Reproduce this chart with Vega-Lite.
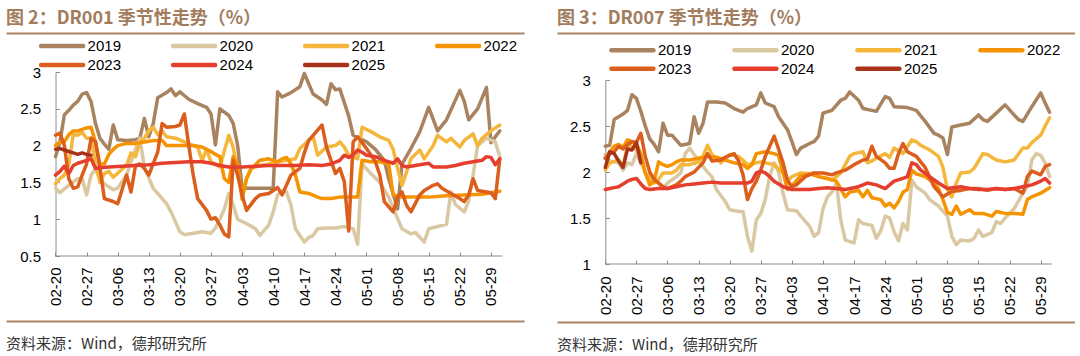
{
"$schema": "https://vega.github.io/schema/vega-lite/v6.json",
"background": "white",
"padding": {"left": 6, "top": 10, "right": 0, "bottom": 0},
"config": {
  "view": {"stroke": null},
  "font": "Liberation Sans",
  "axis": {"labelFont": "Liberation Sans", "labelColor": "#000000", "domainColor": "#8c8c8c", "tickColor": "#8c8c8c", "grid": false},
  "legend": {"labelFont": "Liberation Sans"}
},
"datasets": {
"dr001": [
{"s":"2019","d":"02-20","v":1.85},{"s":"2019","d":"02-21","v":2.05},{"s":"2019","d":"02-22","v":2.42},{"s":"2019","d":"02-23","v":2.48},{"s":"2019","d":"02-24","v":2.55},{"s":"2019","d":"02-25","v":2.6},{"s":"2019","d":"02-26","v":2.7},{"s":"2019","d":"02-27","v":2.72},{"s":"2019","d":"02-28","v":2.6},{"s":"2019","d":"03-01","v":2.3},{"s":"2019","d":"03-02","v":2.1},{"s":"2019","d":"03-03","v":2.02},{"s":"2019","d":"03-04","v":1.95},{"s":"2019","d":"03-05","v":2.28},{"s":"2019","d":"03-06","v":2.08},{"s":"2019","d":"03-08","v":2.07},{"s":"2019","d":"03-10","v":2.08},{"s":"2019","d":"03-11","v":2.1},{"s":"2019","d":"03-12","v":2.37},{"s":"2019","d":"03-13","v":2.12},{"s":"2019","d":"03-14","v":2.3},{"s":"2019","d":"03-15","v":2.65},{"s":"2019","d":"03-17","v":2.72},{"s":"2019","d":"03-18","v":2.77},{"s":"2019","d":"03-19","v":2.68},{"s":"2019","d":"03-20","v":2.73},{"s":"2019","d":"03-22","v":2.63},{"s":"2019","d":"03-24","v":2.57},{"s":"2019","d":"03-26","v":2.52},{"s":"2019","d":"03-27","v":2.43},{"s":"2019","d":"03-28","v":2.01},{"s":"2019","d":"03-29","v":2.5},{"s":"2019","d":"03-31","v":2.41},{"s":"2019","d":"04-01","v":2.3},{"s":"2019","d":"04-02","v":2.0},{"s":"2019","d":"04-03","v":1.42},{"s":"2019","d":"04-07","v":1.42},{"s":"2019","d":"04-10","v":1.42},{"s":"2019","d":"04-11","v":2.73},{"s":"2019","d":"04-12","v":2.66},{"s":"2019","d":"04-14","v":2.72},{"s":"2019","d":"04-16","v":2.8},{"s":"2019","d":"04-17","v":2.98},{"s":"2019","d":"04-19","v":2.7},{"s":"2019","d":"04-21","v":2.62},{"s":"2019","d":"04-22","v":2.56},{"s":"2019","d":"04-23","v":2.84},{"s":"2019","d":"04-24","v":2.76},{"s":"2019","d":"04-25","v":2.77},{"s":"2019","d":"04-27","v":2.4},{"s":"2019","d":"04-28","v":2.14},{"s":"2019","d":"05-01","v":2.05},{"s":"2019","d":"05-03","v":1.95},{"s":"2019","d":"05-05","v":1.8},{"s":"2019","d":"05-06","v":1.55},{"s":"2019","d":"05-08","v":1.14},{"s":"2019","d":"05-09","v":1.75},{"s":"2019","d":"05-11","v":1.96},{"s":"2019","d":"05-13","v":2.19},{"s":"2019","d":"05-15","v":2.52},{"s":"2019","d":"05-17","v":2.2},{"s":"2019","d":"05-19","v":2.35},{"s":"2019","d":"05-22","v":2.75},{"s":"2019","d":"05-23","v":2.6},{"s":"2019","d":"05-24","v":2.35},{"s":"2019","d":"05-26","v":2.5},{"s":"2019","d":"05-28","v":2.79},{"s":"2019","d":"05-29","v":2.04},{"s":"2019","d":"05-31","v":2.2},
{"s":"2020","d":"02-20","v":1.42},{"s":"2020","d":"02-21","v":1.36},{"s":"2020","d":"02-23","v":1.46},{"s":"2020","d":"02-25","v":1.55},{"s":"2020","d":"02-26","v":1.55},{"s":"2020","d":"02-27","v":1.33},{"s":"2020","d":"02-28","v":1.6},{"s":"2020","d":"03-01","v":1.68},{"s":"2020","d":"03-02","v":1.55},{"s":"2020","d":"03-03","v":1.48},{"s":"2020","d":"03-05","v":1.4},{"s":"2020","d":"03-06","v":1.42},{"s":"2020","d":"03-08","v":1.6},{"s":"2020","d":"03-09","v":1.78},{"s":"2020","d":"03-10","v":1.95},{"s":"2020","d":"03-11","v":2.1},{"s":"2020","d":"03-12","v":1.7},{"s":"2020","d":"03-14","v":1.42},{"s":"2020","d":"03-15","v":1.35},{"s":"2020","d":"03-17","v":1.21},{"s":"2020","d":"03-18","v":1.1},{"s":"2020","d":"03-20","v":0.83},{"s":"2020","d":"03-21","v":0.79},{"s":"2020","d":"03-23","v":0.81},{"s":"2020","d":"03-25","v":0.83},{"s":"2020","d":"03-27","v":0.81},{"s":"2020","d":"03-28","v":0.88},{"s":"2020","d":"03-29","v":1.0},{"s":"2020","d":"03-30","v":1.14},{"s":"2020","d":"03-31","v":1.35},{"s":"2020","d":"04-01","v":1.19},{"s":"2020","d":"04-02","v":1.0},{"s":"2020","d":"04-04","v":0.94},{"s":"2020","d":"04-06","v":0.87},{"s":"2020","d":"04-07","v":0.78},{"s":"2020","d":"04-09","v":0.92},{"s":"2020","d":"04-10","v":1.1},{"s":"2020","d":"04-11","v":1.33},{"s":"2020","d":"04-12","v":1.39},{"s":"2020","d":"04-13","v":1.37},{"s":"2020","d":"04-14","v":1.19},{"s":"2020","d":"04-15","v":0.87},{"s":"2020","d":"04-17","v":0.69},{"s":"2020","d":"04-18","v":0.75},{"s":"2020","d":"04-19","v":0.78},{"s":"2020","d":"04-20","v":0.87},{"s":"2020","d":"04-22","v":0.88},{"s":"2020","d":"04-24","v":0.88},{"s":"2020","d":"04-26","v":0.9},{"s":"2020","d":"04-28","v":0.87},{"s":"2020","d":"04-29","v":0.66},{"s":"2020","d":"04-30","v":1.75},{"s":"2020","d":"05-02","v":1.62},{"s":"2020","d":"05-04","v":1.5},{"s":"2020","d":"05-06","v":1.3},{"s":"2020","d":"05-07","v":1.15},{"s":"2020","d":"05-09","v":0.87},{"s":"2020","d":"05-11","v":0.8},{"s":"2020","d":"05-12","v":0.82},{"s":"2020","d":"05-14","v":0.69},{"s":"2020","d":"05-15","v":0.87},{"s":"2020","d":"05-17","v":0.9},{"s":"2020","d":"05-19","v":0.93},{"s":"2020","d":"05-20","v":1.37},{"s":"2020","d":"05-21","v":1.2},{"s":"2020","d":"05-23","v":1.1},{"s":"2020","d":"05-24","v":1.25},{"s":"2020","d":"05-25","v":1.6},{"s":"2020","d":"05-26","v":2.0},{"s":"2020","d":"05-28","v":2.1},{"s":"2020","d":"05-30","v":2.05},{"s":"2020","d":"05-31","v":1.85},
{"s":"2021","d":"02-20","v":1.48},{"s":"2021","d":"02-21","v":1.55},{"s":"2021","d":"02-22","v":1.6},{"s":"2021","d":"02-23","v":1.75},{"s":"2021","d":"02-24","v":2.15},{"s":"2021","d":"02-25","v":2.14},{"s":"2021","d":"02-26","v":2.18},{"s":"2021","d":"02-27","v":2.1},{"s":"2021","d":"02-28","v":2.1},{"s":"2021","d":"03-01","v":1.75},{"s":"2021","d":"03-02","v":1.5},{"s":"2021","d":"03-03","v":1.62},{"s":"2021","d":"03-04","v":1.65},{"s":"2021","d":"03-05","v":1.57},{"s":"2021","d":"03-07","v":1.68},{"s":"2021","d":"03-08","v":1.73},{"s":"2021","d":"03-09","v":1.9},{"s":"2021","d":"03-10","v":1.85},{"s":"2021","d":"03-11","v":2.05},{"s":"2021","d":"03-12","v":2.1},{"s":"2021","d":"03-13","v":2.2},{"s":"2021","d":"03-14","v":2.25},{"s":"2021","d":"03-15","v":2.15},{"s":"2021","d":"03-16","v":2.2},{"s":"2021","d":"03-17","v":2.12},{"s":"2021","d":"03-19","v":2.1},{"s":"2021","d":"03-21","v":2.05},{"s":"2021","d":"03-23","v":2.0},{"s":"2021","d":"03-24","v":1.98},{"s":"2021","d":"03-25","v":1.8},{"s":"2021","d":"03-26","v":1.95},{"s":"2021","d":"03-27","v":1.78},{"s":"2021","d":"03-29","v":1.71},{"s":"2021","d":"03-31","v":2.14},{"s":"2021","d":"04-01","v":1.98},{"s":"2021","d":"04-02","v":1.6},{"s":"2021","d":"04-03","v":1.33},{"s":"2021","d":"04-04","v":1.55},{"s":"2021","d":"04-05","v":1.69},{"s":"2021","d":"04-07","v":1.73},{"s":"2021","d":"04-09","v":1.75},{"s":"2021","d":"04-11","v":1.78},{"s":"2021","d":"04-13","v":1.8},{"s":"2021","d":"04-15","v":1.82},{"s":"2021","d":"04-16","v":1.96},{"s":"2021","d":"04-18","v":2.07},{"s":"2021","d":"04-19","v":2.12},{"s":"2021","d":"04-20","v":1.87},{"s":"2021","d":"04-22","v":1.98},{"s":"2021","d":"04-24","v":2.0},{"s":"2021","d":"04-25","v":2.05},{"s":"2021","d":"04-26","v":1.98},{"s":"2021","d":"04-27","v":1.87},{"s":"2021","d":"04-29","v":1.82},{"s":"2021","d":"04-30","v":2.25},{"s":"2021","d":"05-02","v":2.19},{"s":"2021","d":"05-04","v":2.12},{"s":"2021","d":"05-06","v":2.07},{"s":"2021","d":"05-07","v":1.95},{"s":"2021","d":"05-08","v":1.69},{"s":"2021","d":"05-09","v":1.46},{"s":"2021","d":"05-10","v":1.64},{"s":"2021","d":"05-11","v":1.82},{"s":"2021","d":"05-13","v":1.94},{"s":"2021","d":"05-14","v":1.82},{"s":"2021","d":"05-16","v":2.0},{"s":"2021","d":"05-17","v":2.14},{"s":"2021","d":"05-19","v":2.05},{"s":"2021","d":"05-20","v":2.1},{"s":"2021","d":"05-22","v":1.98},{"s":"2021","d":"05-23","v":2.07},{"s":"2021","d":"05-25","v":2.16},{"s":"2021","d":"05-26","v":2.0},{"s":"2021","d":"05-27","v":2.1},{"s":"2021","d":"05-29","v":2.2},{"s":"2021","d":"05-31","v":2.28},
{"s":"2022","d":"02-20","v":2.0},{"s":"2022","d":"02-21","v":2.05},{"s":"2022","d":"02-22","v":2.05},{"s":"2022","d":"02-23","v":2.15},{"s":"2022","d":"02-24","v":2.2},{"s":"2022","d":"02-25","v":2.2},{"s":"2022","d":"02-26","v":2.22},{"s":"2022","d":"02-27","v":2.24},{"s":"2022","d":"02-28","v":2.25},{"s":"2022","d":"03-01","v":2.05},{"s":"2022","d":"03-02","v":1.75},{"s":"2022","d":"03-03","v":1.75},{"s":"2022","d":"03-04","v":1.88},{"s":"2022","d":"03-05","v":1.95},{"s":"2022","d":"03-06","v":2.0},{"s":"2022","d":"03-08","v":2.03},{"s":"2022","d":"03-10","v":2.03},{"s":"2022","d":"03-12","v":2.05},{"s":"2022","d":"03-14","v":2.07},{"s":"2022","d":"03-16","v":2.07},{"s":"2022","d":"03-17","v":2.0},{"s":"2022","d":"03-19","v":2.0},{"s":"2022","d":"03-21","v":2.0},{"s":"2022","d":"03-23","v":2.0},{"s":"2022","d":"03-25","v":1.98},{"s":"2022","d":"03-27","v":1.92},{"s":"2022","d":"03-28","v":1.88},{"s":"2022","d":"03-29","v":1.85},{"s":"2022","d":"03-30","v":1.55},{"s":"2022","d":"03-31","v":1.5},{"s":"2022","d":"04-01","v":1.85},{"s":"2022","d":"04-02","v":1.75},{"s":"2022","d":"04-03","v":1.27},{"s":"2022","d":"04-04","v":1.55},{"s":"2022","d":"04-05","v":1.68},{"s":"2022","d":"04-07","v":1.8},{"s":"2022","d":"04-09","v":1.82},{"s":"2022","d":"04-11","v":1.78},{"s":"2022","d":"04-12","v":1.82},{"s":"2022","d":"04-13","v":1.84},{"s":"2022","d":"04-14","v":1.75},{"s":"2022","d":"04-15","v":1.6},{"s":"2022","d":"04-16","v":1.37},{"s":"2022","d":"04-18","v":1.35},{"s":"2022","d":"04-20","v":1.3},{"s":"2022","d":"04-21","v":1.28},{"s":"2022","d":"04-23","v":1.28},{"s":"2022","d":"04-25","v":1.3},{"s":"2022","d":"04-27","v":1.3},{"s":"2022","d":"04-29","v":1.3},{"s":"2022","d":"04-30","v":1.8},{"s":"2022","d":"05-02","v":1.78},{"s":"2022","d":"05-04","v":1.78},{"s":"2022","d":"05-06","v":1.75},{"s":"2022","d":"05-07","v":1.33},{"s":"2022","d":"05-09","v":1.3},{"s":"2022","d":"05-11","v":1.3},{"s":"2022","d":"05-15","v":1.3},{"s":"2022","d":"05-19","v":1.32},{"s":"2022","d":"05-23","v":1.33},{"s":"2022","d":"05-27","v":1.34},{"s":"2022","d":"05-29","v":1.36},{"s":"2022","d":"05-31","v":1.38},
{"s":"2023","d":"02-20","v":2.14},{"s":"2023","d":"02-21","v":2.17},{"s":"2023","d":"02-22","v":2.0},{"s":"2023","d":"02-23","v":1.55},{"s":"2023","d":"02-24","v":1.42},{"s":"2023","d":"02-25","v":1.44},{"s":"2023","d":"02-26","v":1.6},{"s":"2023","d":"02-27","v":1.75},{"s":"2023","d":"02-28","v":2.1},{"s":"2023","d":"03-01","v":2.05},{"s":"2023","d":"03-02","v":1.7},{"s":"2023","d":"03-03","v":1.28},{"s":"2023","d":"03-05","v":1.24},{"s":"2023","d":"03-06","v":1.21},{"s":"2023","d":"03-08","v":1.6},{"s":"2023","d":"03-09","v":1.37},{"s":"2023","d":"03-10","v":1.73},{"s":"2023","d":"03-11","v":1.75},{"s":"2023","d":"03-12","v":1.69},{"s":"2023","d":"03-13","v":1.6},{"s":"2023","d":"03-15","v":1.91},{"s":"2023","d":"03-16","v":2.3},{"s":"2023","d":"03-17","v":2.25},{"s":"2023","d":"03-19","v":2.26},{"s":"2023","d":"03-20","v":2.28},{"s":"2023","d":"03-21","v":2.43},{"s":"2023","d":"03-22","v":2.0},{"s":"2023","d":"03-23","v":1.6},{"s":"2023","d":"03-24","v":1.28},{"s":"2023","d":"03-25","v":1.2},{"s":"2023","d":"03-26","v":1.12},{"s":"2023","d":"03-27","v":1.0},{"s":"2023","d":"03-28","v":1.02},{"s":"2023","d":"03-29","v":0.92},{"s":"2023","d":"03-30","v":0.8},{"s":"2023","d":"03-31","v":0.76},{"s":"2023","d":"04-01","v":1.8},{"s":"2023","d":"04-02","v":1.6},{"s":"2023","d":"04-03","v":1.33},{"s":"2023","d":"04-04","v":1.12},{"s":"2023","d":"04-06","v":1.28},{"s":"2023","d":"04-07","v":1.33},{"s":"2023","d":"04-09","v":1.35},{"s":"2023","d":"04-11","v":1.43},{"s":"2023","d":"04-12","v":1.33},{"s":"2023","d":"04-14","v":1.6},{"s":"2023","d":"04-16","v":1.69},{"s":"2023","d":"04-17","v":1.9},{"s":"2023","d":"04-18","v":2.07},{"s":"2023","d":"04-20","v":2.21},{"s":"2023","d":"04-21","v":2.28},{"s":"2023","d":"04-22","v":1.98},{"s":"2023","d":"04-24","v":1.62},{"s":"2023","d":"04-25","v":1.69},{"s":"2023","d":"04-26","v":1.51},{"s":"2023","d":"04-27","v":0.84},{"s":"2023","d":"04-28","v":2.05},{"s":"2023","d":"04-29","v":2.12},{"s":"2023","d":"05-01","v":1.96},{"s":"2023","d":"05-03","v":1.78},{"s":"2023","d":"05-04","v":1.6},{"s":"2023","d":"05-05","v":1.24},{"s":"2023","d":"05-07","v":1.1},{"s":"2023","d":"05-08","v":1.3},{"s":"2023","d":"05-09","v":1.37},{"s":"2023","d":"05-10","v":1.19},{"s":"2023","d":"05-11","v":1.1},{"s":"2023","d":"05-13","v":1.33},{"s":"2023","d":"05-14","v":1.39},{"s":"2023","d":"05-16","v":1.46},{"s":"2023","d":"05-17","v":1.48},{"s":"2023","d":"05-18","v":1.42},{"s":"2023","d":"05-20","v":1.35},{"s":"2023","d":"05-22","v":1.28},{"s":"2023","d":"05-23","v":1.24},{"s":"2023","d":"05-24","v":1.33},{"s":"2023","d":"05-25","v":1.55},{"s":"2023","d":"05-26","v":1.39},{"s":"2023","d":"05-28","v":1.37},{"s":"2023","d":"05-29","v":1.36},{"s":"2023","d":"05-30","v":1.28},{"s":"2023","d":"05-31","v":1.82},
{"s":"2024","d":"02-20","v":1.6},{"s":"2024","d":"02-21","v":1.65},{"s":"2024","d":"02-22","v":1.72},{"s":"2024","d":"02-23","v":1.62},{"s":"2024","d":"02-24","v":1.73},{"s":"2024","d":"02-25","v":1.76},{"s":"2024","d":"02-26","v":1.78},{"s":"2024","d":"02-27","v":1.8},{"s":"2024","d":"02-28","v":1.82},{"s":"2024","d":"03-01","v":1.69},{"s":"2024","d":"03-02","v":1.7},{"s":"2024","d":"03-04","v":1.71},{"s":"2024","d":"03-07","v":1.72},{"s":"2024","d":"03-10","v":1.73},{"s":"2024","d":"03-13","v":1.74},{"s":"2024","d":"03-16","v":1.76},{"s":"2024","d":"03-19","v":1.77},{"s":"2024","d":"03-22","v":1.78},{"s":"2024","d":"03-25","v":1.78},{"s":"2024","d":"03-27","v":1.76},{"s":"2024","d":"03-29","v":1.73},{"s":"2024","d":"03-31","v":1.71},{"s":"2024","d":"04-03","v":1.71},{"s":"2024","d":"04-06","v":1.72},{"s":"2024","d":"04-09","v":1.73},{"s":"2024","d":"04-12","v":1.73},{"s":"2024","d":"04-15","v":1.73},{"s":"2024","d":"04-18","v":1.74},{"s":"2024","d":"04-21","v":1.73},{"s":"2024","d":"04-23","v":1.75},{"s":"2024","d":"04-25","v":1.8},{"s":"2024","d":"04-26","v":1.87},{"s":"2024","d":"04-27","v":1.84},{"s":"2024","d":"04-28","v":1.87},{"s":"2024","d":"04-29","v":1.94},{"s":"2024","d":"04-30","v":1.91},{"s":"2024","d":"05-01","v":1.87},{"s":"2024","d":"05-03","v":1.85},{"s":"2024","d":"05-05","v":1.8},{"s":"2024","d":"05-07","v":1.76},{"s":"2024","d":"05-08","v":1.82},{"s":"2024","d":"05-09","v":1.73},{"s":"2024","d":"05-10","v":1.71},{"s":"2024","d":"05-12","v":1.73},{"s":"2024","d":"05-15","v":1.76},{"s":"2024","d":"05-16","v":1.71},{"s":"2024","d":"05-19","v":1.71},{"s":"2024","d":"05-21","v":1.73},{"s":"2024","d":"05-23","v":1.76},{"s":"2024","d":"05-25","v":1.78},{"s":"2024","d":"05-27","v":1.8},{"s":"2024","d":"05-28","v":1.85},{"s":"2024","d":"05-29","v":1.84},{"s":"2024","d":"05-30","v":1.74},{"s":"2024","d":"05-31","v":1.82},
{"s":"2025","d":"02-20","v":1.95},{"s":"2025","d":"02-21","v":1.96},{"s":"2025","d":"02-22","v":1.94},{"s":"2025","d":"02-23","v":1.92},{"s":"2025","d":"02-24","v":1.9},{"s":"2025","d":"02-25","v":1.88},{"s":"2025","d":"02-26","v":1.9},{"s":"2025","d":"02-27","v":1.88},{"s":"2025","d":"02-28","v":1.87}
],
"dr007": [
{"s":"2019","d":"02-20","v":2.28},{"s":"2019","d":"02-21","v":2.29},{"s":"2019","d":"02-22","v":2.57},{"s":"2019","d":"02-23","v":2.6},{"s":"2019","d":"02-24","v":2.63},{"s":"2019","d":"02-25","v":2.67},{"s":"2019","d":"02-26","v":2.84},{"s":"2019","d":"02-27","v":2.8},{"s":"2019","d":"02-28","v":2.66},{"s":"2019","d":"03-01","v":2.5},{"s":"2019","d":"03-02","v":2.36},{"s":"2019","d":"03-03","v":2.3},{"s":"2019","d":"03-04","v":2.22},{"s":"2019","d":"03-05","v":2.53},{"s":"2019","d":"03-06","v":2.4},{"s":"2019","d":"03-07","v":2.4},{"s":"2019","d":"03-09","v":2.29},{"s":"2019","d":"03-11","v":2.31},{"s":"2019","d":"03-12","v":2.6},{"s":"2019","d":"03-13","v":2.42},{"s":"2019","d":"03-14","v":2.53},{"s":"2019","d":"03-15","v":2.76},{"s":"2019","d":"03-17","v":2.76},{"s":"2019","d":"03-19","v":2.75},{"s":"2019","d":"03-21","v":2.69},{"s":"2019","d":"03-23","v":2.65},{"s":"2019","d":"03-24","v":2.69},{"s":"2019","d":"03-26","v":2.73},{"s":"2019","d":"03-27","v":2.86},{"s":"2019","d":"03-28","v":2.75},{"s":"2019","d":"03-30","v":2.71},{"s":"2019","d":"03-31","v":2.6},{"s":"2019","d":"04-02","v":2.46},{"s":"2019","d":"04-03","v":2.33},{"s":"2019","d":"04-04","v":2.19},{"s":"2019","d":"04-05","v":2.26},{"s":"2019","d":"04-07","v":2.31},{"s":"2019","d":"04-08","v":2.33},{"s":"2019","d":"04-09","v":2.39},{"s":"2019","d":"04-10","v":2.64},{"s":"2019","d":"04-12","v":2.67},{"s":"2019","d":"04-14","v":2.78},{"s":"2019","d":"04-15","v":2.8},{"s":"2019","d":"04-16","v":2.87},{"s":"2019","d":"04-18","v":2.78},{"s":"2019","d":"04-19","v":2.69},{"s":"2019","d":"04-21","v":2.67},{"s":"2019","d":"04-22","v":2.66},{"s":"2019","d":"04-24","v":2.82},{"s":"2019","d":"04-25","v":2.8},{"s":"2019","d":"04-26","v":2.71},{"s":"2019","d":"04-29","v":2.7},{"s":"2019","d":"05-01","v":2.67},{"s":"2019","d":"05-03","v":2.55},{"s":"2019","d":"05-05","v":2.42},{"s":"2019","d":"05-06","v":2.4},{"s":"2019","d":"05-07","v":2.37},{"s":"2019","d":"05-08","v":2.19},{"s":"2019","d":"05-09","v":2.49},{"s":"2019","d":"05-11","v":2.51},{"s":"2019","d":"05-13","v":2.53},{"s":"2019","d":"05-15","v":2.62},{"s":"2019","d":"05-16","v":2.57},{"s":"2019","d":"05-17","v":2.55},{"s":"2019","d":"05-19","v":2.64},{"s":"2019","d":"05-21","v":2.73},{"s":"2019","d":"05-23","v":2.62},{"s":"2019","d":"05-24","v":2.57},{"s":"2019","d":"05-25","v":2.55},{"s":"2019","d":"05-27","v":2.71},{"s":"2019","d":"05-29","v":2.86},{"s":"2019","d":"05-30","v":2.75},{"s":"2019","d":"05-31","v":2.65},
{"s":"2020","d":"02-20","v":2.19},{"s":"2020","d":"02-21","v":2.12},{"s":"2020","d":"02-22","v":2.11},{"s":"2020","d":"02-23","v":2.1},{"s":"2020","d":"02-24","v":2.02},{"s":"2020","d":"02-25","v":2.1},{"s":"2020","d":"02-26","v":2.08},{"s":"2020","d":"02-27","v":2.2},{"s":"2020","d":"02-28","v":2.1},{"s":"2020","d":"03-01","v":1.99},{"s":"2020","d":"03-02","v":1.95},{"s":"2020","d":"03-04","v":1.88},{"s":"2020","d":"03-05","v":1.82},{"s":"2020","d":"03-06","v":1.88},{"s":"2020","d":"03-08","v":1.95},{"s":"2020","d":"03-09","v":1.99},{"s":"2020","d":"03-10","v":2.2},{"s":"2020","d":"03-11","v":2.26},{"s":"2020","d":"03-12","v":2.19},{"s":"2020","d":"03-14","v":2.06},{"s":"2020","d":"03-15","v":2.0},{"s":"2020","d":"03-16","v":1.95},{"s":"2020","d":"03-17","v":1.81},{"s":"2020","d":"03-19","v":1.68},{"s":"2020","d":"03-20","v":1.59},{"s":"2020","d":"03-22","v":1.57},{"s":"2020","d":"03-23","v":1.57},{"s":"2020","d":"03-24","v":1.3},{"s":"2020","d":"03-25","v":1.14},{"s":"2020","d":"03-26","v":1.48},{"s":"2020","d":"03-27","v":1.55},{"s":"2020","d":"03-28","v":1.7},{"s":"2020","d":"03-29","v":1.95},{"s":"2020","d":"03-30","v":2.1},{"s":"2020","d":"03-31","v":2.0},{"s":"2020","d":"04-01","v":1.77},{"s":"2020","d":"04-02","v":1.59},{"s":"2020","d":"04-04","v":1.58},{"s":"2020","d":"04-05","v":1.52},{"s":"2020","d":"04-07","v":1.41},{"s":"2020","d":"04-08","v":1.3},{"s":"2020","d":"04-09","v":1.34},{"s":"2020","d":"04-10","v":1.6},{"s":"2020","d":"04-11","v":1.73},{"s":"2020","d":"04-12","v":1.78},{"s":"2020","d":"04-13","v":1.88},{"s":"2020","d":"04-14","v":1.48},{"s":"2020","d":"04-15","v":1.26},{"s":"2020","d":"04-17","v":1.23},{"s":"2020","d":"04-18","v":1.48},{"s":"2020","d":"04-19","v":1.44},{"s":"2020","d":"04-21","v":1.42},{"s":"2020","d":"04-22","v":1.28},{"s":"2020","d":"04-23","v":1.36},{"s":"2020","d":"04-24","v":1.52},{"s":"2020","d":"04-25","v":1.5},{"s":"2020","d":"04-26","v":1.35},{"s":"2020","d":"04-27","v":1.25},{"s":"2020","d":"04-28","v":1.44},{"s":"2020","d":"04-29","v":1.37},{"s":"2020","d":"04-30","v":1.91},{"s":"2020","d":"05-01","v":1.84},{"s":"2020","d":"05-03","v":1.77},{"s":"2020","d":"05-04","v":1.7},{"s":"2020","d":"05-06","v":1.63},{"s":"2020","d":"05-08","v":1.52},{"s":"2020","d":"05-09","v":1.3},{"s":"2020","d":"05-10","v":1.21},{"s":"2020","d":"05-11","v":1.26},{"s":"2020","d":"05-13","v":1.25},{"s":"2020","d":"05-14","v":1.28},{"s":"2020","d":"05-15","v":1.37},{"s":"2020","d":"05-16","v":1.3},{"s":"2020","d":"05-18","v":1.34},{"s":"2020","d":"05-19","v":1.46},{"s":"2020","d":"05-20","v":1.44},{"s":"2020","d":"05-21","v":1.5},{"s":"2020","d":"05-23","v":1.6},{"s":"2020","d":"05-25","v":1.77},{"s":"2020","d":"05-26","v":1.84},{"s":"2020","d":"05-27","v":2.13},{"s":"2020","d":"05-28","v":2.2},{"s":"2020","d":"05-29","v":2.18},{"s":"2020","d":"05-30","v":2.1},{"s":"2020","d":"05-31","v":1.95},
{"s":"2021","d":"02-20","v":2.02},{"s":"2021","d":"02-21","v":2.1},{"s":"2021","d":"02-23","v":2.13},{"s":"2021","d":"02-24","v":2.06},{"s":"2021","d":"02-25","v":2.29},{"s":"2021","d":"02-26","v":2.28},{"s":"2021","d":"02-27","v":2.24},{"s":"2021","d":"02-28","v":2.18},{"s":"2021","d":"03-01","v":1.99},{"s":"2021","d":"03-02","v":1.92},{"s":"2021","d":"03-03","v":1.88},{"s":"2021","d":"03-04","v":1.92},{"s":"2021","d":"03-05","v":1.99},{"s":"2021","d":"03-07","v":1.99},{"s":"2021","d":"03-08","v":2.02},{"s":"2021","d":"03-09","v":2.08},{"s":"2021","d":"03-11","v":2.08},{"s":"2021","d":"03-13","v":2.11},{"s":"2021","d":"03-14","v":2.17},{"s":"2021","d":"03-15","v":2.29},{"s":"2021","d":"03-16","v":2.19},{"s":"2021","d":"03-18","v":2.1},{"s":"2021","d":"03-19","v":2.15},{"s":"2021","d":"03-20","v":2.19},{"s":"2021","d":"03-22","v":2.17},{"s":"2021","d":"03-24","v":2.08},{"s":"2021","d":"03-26","v":2.1},{"s":"2021","d":"03-27","v":2.11},{"s":"2021","d":"03-29","v":2.09},{"s":"2021","d":"03-30","v":2.08},{"s":"2021","d":"04-01","v":1.99},{"s":"2021","d":"04-02","v":1.9},{"s":"2021","d":"04-03","v":1.95},{"s":"2021","d":"04-05","v":1.99},{"s":"2021","d":"04-07","v":1.98},{"s":"2021","d":"04-08","v":1.99},{"s":"2021","d":"04-09","v":1.95},{"s":"2021","d":"04-11","v":1.93},{"s":"2021","d":"04-12","v":1.91},{"s":"2021","d":"04-14","v":1.99},{"s":"2021","d":"04-16","v":2.17},{"s":"2021","d":"04-17","v":2.2},{"s":"2021","d":"04-19","v":2.22},{"s":"2021","d":"04-20","v":2.1},{"s":"2021","d":"04-21","v":2.12},{"s":"2021","d":"04-22","v":2.15},{"s":"2021","d":"04-24","v":2.2},{"s":"2021","d":"04-25","v":2.16},{"s":"2021","d":"04-26","v":2.26},{"s":"2021","d":"04-28","v":2.2},{"s":"2021","d":"04-30","v":2.35},{"s":"2021","d":"05-01","v":2.33},{"s":"2021","d":"05-02","v":2.29},{"s":"2021","d":"05-04","v":2.24},{"s":"2021","d":"05-06","v":2.17},{"s":"2021","d":"05-07","v":2.05},{"s":"2021","d":"05-08","v":1.81},{"s":"2021","d":"05-09","v":1.73},{"s":"2021","d":"05-10","v":1.88},{"s":"2021","d":"05-11","v":1.99},{"s":"2021","d":"05-13","v":2.0},{"s":"2021","d":"05-14","v":2.04},{"s":"2021","d":"05-16","v":2.2},{"s":"2021","d":"05-17","v":2.19},{"s":"2021","d":"05-19","v":2.13},{"s":"2021","d":"05-21","v":2.11},{"s":"2021","d":"05-23","v":2.13},{"s":"2021","d":"05-25","v":2.26},{"s":"2021","d":"05-26","v":2.26},{"s":"2021","d":"05-27","v":2.32},{"s":"2021","d":"05-29","v":2.4},{"s":"2021","d":"05-30","v":2.5},{"s":"2021","d":"05-31","v":2.59},
{"s":"2022","d":"02-20","v":2.15},{"s":"2022","d":"02-21","v":2.22},{"s":"2022","d":"02-22","v":2.28},{"s":"2022","d":"02-23","v":2.3},{"s":"2022","d":"02-24","v":2.27},{"s":"2022","d":"02-25","v":2.35},{"s":"2022","d":"02-26","v":2.33},{"s":"2022","d":"02-27","v":2.31},{"s":"2022","d":"02-28","v":2.2},{"s":"2022","d":"03-01","v":1.99},{"s":"2022","d":"03-02","v":1.86},{"s":"2022","d":"03-03","v":1.9},{"s":"2022","d":"03-04","v":2.11},{"s":"2022","d":"03-05","v":2.08},{"s":"2022","d":"03-06","v":2.06},{"s":"2022","d":"03-07","v":2.08},{"s":"2022","d":"03-08","v":2.11},{"s":"2022","d":"03-09","v":2.13},{"s":"2022","d":"03-11","v":2.13},{"s":"2022","d":"03-13","v":2.15},{"s":"2022","d":"03-15","v":2.17},{"s":"2022","d":"03-17","v":2.16},{"s":"2022","d":"03-19","v":2.13},{"s":"2022","d":"03-21","v":2.1},{"s":"2022","d":"03-23","v":2.08},{"s":"2022","d":"03-24","v":2.04},{"s":"2022","d":"03-25","v":2.08},{"s":"2022","d":"03-26","v":2.2},{"s":"2022","d":"03-28","v":2.22},{"s":"2022","d":"03-30","v":2.2},{"s":"2022","d":"03-31","v":2.18},{"s":"2022","d":"04-01","v":2.0},{"s":"2022","d":"04-02","v":1.81},{"s":"2022","d":"04-03","v":1.85},{"s":"2022","d":"04-05","v":1.96},{"s":"2022","d":"04-07","v":1.98},{"s":"2022","d":"04-09","v":1.95},{"s":"2022","d":"04-11","v":1.93},{"s":"2022","d":"04-13","v":1.9},{"s":"2022","d":"04-15","v":1.73},{"s":"2022","d":"04-16","v":1.78},{"s":"2022","d":"04-18","v":1.8},{"s":"2022","d":"04-19","v":1.73},{"s":"2022","d":"04-20","v":1.8},{"s":"2022","d":"04-21","v":1.72},{"s":"2022","d":"04-23","v":1.7},{"s":"2022","d":"04-24","v":1.63},{"s":"2022","d":"04-25","v":1.66},{"s":"2022","d":"04-26","v":1.61},{"s":"2022","d":"04-27","v":1.68},{"s":"2022","d":"04-28","v":1.78},{"s":"2022","d":"04-29","v":1.81},{"s":"2022","d":"04-30","v":2.02},{"s":"2022","d":"05-01","v":1.98},{"s":"2022","d":"05-03","v":1.95},{"s":"2022","d":"05-05","v":1.88},{"s":"2022","d":"05-06","v":1.82},{"s":"2022","d":"05-07","v":1.7},{"s":"2022","d":"05-08","v":1.56},{"s":"2022","d":"05-09","v":1.54},{"s":"2022","d":"05-10","v":1.63},{"s":"2022","d":"05-11","v":1.54},{"s":"2022","d":"05-13","v":1.59},{"s":"2022","d":"05-14","v":1.55},{"s":"2022","d":"05-16","v":1.55},{"s":"2022","d":"05-18","v":1.52},{"s":"2022","d":"05-19","v":1.57},{"s":"2022","d":"05-21","v":1.55},{"s":"2022","d":"05-23","v":1.55},{"s":"2022","d":"05-25","v":1.54},{"s":"2022","d":"05-26","v":1.7},{"s":"2022","d":"05-27","v":1.73},{"s":"2022","d":"05-29","v":1.77},{"s":"2022","d":"05-31","v":1.83},
{"s":"2023","d":"02-20","v":2.15},{"s":"2023","d":"02-21","v":2.2},{"s":"2023","d":"02-22","v":2.22},{"s":"2023","d":"02-23","v":2.28},{"s":"2023","d":"02-24","v":2.25},{"s":"2023","d":"02-25","v":2.3},{"s":"2023","d":"02-26","v":2.33},{"s":"2023","d":"02-27","v":2.32},{"s":"2023","d":"02-28","v":2.42},{"s":"2023","d":"03-01","v":2.17},{"s":"2023","d":"03-02","v":2.0},{"s":"2023","d":"03-03","v":1.92},{"s":"2023","d":"03-04","v":1.88},{"s":"2023","d":"03-05","v":1.84},{"s":"2023","d":"03-06","v":1.82},{"s":"2023","d":"03-08","v":1.86},{"s":"2023","d":"03-09","v":1.9},{"s":"2023","d":"03-10","v":1.95},{"s":"2023","d":"03-12","v":2.0},{"s":"2023","d":"03-13","v":2.05},{"s":"2023","d":"03-14","v":2.1},{"s":"2023","d":"03-15","v":2.2},{"s":"2023","d":"03-16","v":2.12},{"s":"2023","d":"03-18","v":2.13},{"s":"2023","d":"03-19","v":2.16},{"s":"2023","d":"03-20","v":2.18},{"s":"2023","d":"03-21","v":2.2},{"s":"2023","d":"03-22","v":2.12},{"s":"2023","d":"03-23","v":1.97},{"s":"2023","d":"03-24","v":1.7},{"s":"2023","d":"03-25","v":1.82},{"s":"2023","d":"03-26","v":1.9},{"s":"2023","d":"03-27","v":2.02},{"s":"2023","d":"03-28","v":2.17},{"s":"2023","d":"03-29","v":2.28},{"s":"2023","d":"03-30","v":2.39},{"s":"2023","d":"03-31","v":2.25},{"s":"2023","d":"04-01","v":2.1},{"s":"2023","d":"04-02","v":1.91},{"s":"2023","d":"04-03","v":1.84},{"s":"2023","d":"04-04","v":1.86},{"s":"2023","d":"04-06","v":1.95},{"s":"2023","d":"04-08","v":1.99},{"s":"2023","d":"04-10","v":1.99},{"s":"2023","d":"04-12","v":1.97},{"s":"2023","d":"04-13","v":1.99},{"s":"2023","d":"04-15","v":2.02},{"s":"2023","d":"04-17","v":2.08},{"s":"2023","d":"04-19","v":2.13},{"s":"2023","d":"04-20","v":2.14},{"s":"2023","d":"04-21","v":2.28},{"s":"2023","d":"04-22","v":2.17},{"s":"2023","d":"04-24","v":2.1},{"s":"2023","d":"04-25","v":2.04},{"s":"2023","d":"04-26","v":2.04},{"s":"2023","d":"04-27","v":2.2},{"s":"2023","d":"04-28","v":2.31},{"s":"2023","d":"04-29","v":2.22},{"s":"2023","d":"05-01","v":2.17},{"s":"2023","d":"05-03","v":2.05},{"s":"2023","d":"05-05","v":1.84},{"s":"2023","d":"05-07","v":1.73},{"s":"2023","d":"05-08","v":1.76},{"s":"2023","d":"05-09","v":1.79},{"s":"2023","d":"05-11","v":1.8},{"s":"2023","d":"05-13","v":1.82},{"s":"2023","d":"05-15","v":1.82},{"s":"2023","d":"05-17","v":1.8},{"s":"2023","d":"05-19","v":1.82},{"s":"2023","d":"05-21","v":1.81},{"s":"2023","d":"05-23","v":1.82},{"s":"2023","d":"05-25","v":1.77},{"s":"2023","d":"05-26","v":1.95},{"s":"2023","d":"05-27","v":2.01},{"s":"2023","d":"05-28","v":1.99},{"s":"2023","d":"05-29","v":1.97},{"s":"2023","d":"05-30","v":2.06},{"s":"2023","d":"05-31","v":2.08},
{"s":"2024","d":"02-20","v":1.81},{"s":"2024","d":"02-21","v":1.82},{"s":"2024","d":"02-22","v":1.83},{"s":"2024","d":"02-23","v":1.84},{"s":"2024","d":"02-24","v":1.87},{"s":"2024","d":"02-25","v":1.9},{"s":"2024","d":"02-26","v":1.92},{"s":"2024","d":"02-27","v":1.93},{"s":"2024","d":"02-28","v":1.87},{"s":"2024","d":"03-01","v":1.82},{"s":"2024","d":"03-02","v":1.81},{"s":"2024","d":"03-04","v":1.82},{"s":"2024","d":"03-06","v":1.82},{"s":"2024","d":"03-08","v":1.84},{"s":"2024","d":"03-10","v":1.86},{"s":"2024","d":"03-12","v":1.87},{"s":"2024","d":"03-14","v":1.88},{"s":"2024","d":"03-16","v":1.89},{"s":"2024","d":"03-18","v":1.88},{"s":"2024","d":"03-20","v":1.88},{"s":"2024","d":"03-22","v":1.88},{"s":"2024","d":"03-24","v":1.88},{"s":"2024","d":"03-25","v":1.9},{"s":"2024","d":"03-26","v":1.99},{"s":"2024","d":"03-27","v":2.01},{"s":"2024","d":"03-28","v":1.99},{"s":"2024","d":"03-29","v":1.95},{"s":"2024","d":"03-30","v":1.9},{"s":"2024","d":"04-01","v":1.84},{"s":"2024","d":"04-03","v":1.81},{"s":"2024","d":"04-05","v":1.81},{"s":"2024","d":"04-07","v":1.81},{"s":"2024","d":"04-09","v":1.82},{"s":"2024","d":"04-11","v":1.83},{"s":"2024","d":"04-13","v":1.82},{"s":"2024","d":"04-15","v":1.81},{"s":"2024","d":"04-18","v":1.84},{"s":"2024","d":"04-20","v":1.88},{"s":"2024","d":"04-22","v":1.86},{"s":"2024","d":"04-24","v":1.82},{"s":"2024","d":"04-26","v":1.9},{"s":"2024","d":"04-28","v":1.93},{"s":"2024","d":"04-29","v":1.95},{"s":"2024","d":"04-30","v":2.1},{"s":"2024","d":"05-01","v":2.08},{"s":"2024","d":"05-02","v":2.02},{"s":"2024","d":"05-04","v":1.95},{"s":"2024","d":"05-06","v":1.88},{"s":"2024","d":"05-08","v":1.82},{"s":"2024","d":"05-11","v":1.84},{"s":"2024","d":"05-13","v":1.82},{"s":"2024","d":"05-15","v":1.81},{"s":"2024","d":"05-17","v":1.81},{"s":"2024","d":"05-19","v":1.82},{"s":"2024","d":"05-21","v":1.81},{"s":"2024","d":"05-23","v":1.82},{"s":"2024","d":"05-25","v":1.84},{"s":"2024","d":"05-27","v":1.86},{"s":"2024","d":"05-28","v":1.88},{"s":"2024","d":"05-29","v":1.9},{"s":"2024","d":"05-30","v":1.93},{"s":"2024","d":"05-31","v":1.88},
{"s":"2025","d":"02-20","v":2.05},{"s":"2025","d":"02-21","v":2.22},{"s":"2025","d":"02-22","v":2.2},{"s":"2025","d":"02-23","v":2.12},{"s":"2025","d":"02-24","v":2.05},{"s":"2025","d":"02-25","v":2.25},{"s":"2025","d":"02-26","v":2.24},{"s":"2025","d":"02-27","v":2.32},{"s":"2025","d":"02-28","v":2.1}
]
},
"resolve": {"scale": {"color": "independent"}, "legend": {"color": "independent"}},
"spacing": 33,
"hconcat": [
{
  "spacing": 0,
  "resolve": {"scale": {"color": "independent"}, "legend": {"color": "independent"}},
  "vconcat": [
    {
      "width": 518, "height": 1,
      "title": {"text": "图 2：DR001 季节性走势（%）", "anchor": "start", "font": "Noto Sans CJK SC", "fontSize": 18, "fontWeight": "bold", "color": "#A27C5C", "offset": 4},
      "data": {"values": [{"a": 0}]},
      "mark": {"type": "text", "text": "", "fontSize": 0},
      "encoding": {"x": {"field": "a", "type": "quantitative", "scale": {"domain": [0, 1]}, "axis": {"orient": "bottom", "domainColor": "#A98466", "domainWidth": 2, "ticks": false, "labels": false, "grid": false, "title": null}}}
    },
    {
      "width": 518, "height": 184,
      "resolve": {"axis": {"x": "independent", "y": "independent"}},
      "layer": [
        {
          "data": {"name": "dr001", "format": {"parse": {"d": "utc:'%m-%d'"}}},
          "mark": {"type": "line", "strokeWidth": 3.5, "strokeJoin": "round", "strokeCap": "round"},
          "encoding": {
            "x": {"field": "d", "type": "temporal",
              "scale": {"type": "utc", "domain": [{"year": 1900, "month": 2, "date": 8, "hours": 20, "minutes": 37, "utc": true}, {"year": 1900, "month": 6, "date": 5, "hours": 10, "minutes": 48, "utc": true}]},
              "axis": {"values": [{"year":1900,"month":2,"date":20,"utc":true},{"year":1900,"month":2,"date":27,"utc":true},{"year":1900,"month":3,"date":6,"utc":true},{"year":1900,"month":3,"date":13,"utc":true},{"year":1900,"month":3,"date":20,"utc":true},{"year":1900,"month":3,"date":27,"utc":true},{"year":1900,"month":4,"date":3,"utc":true},{"year":1900,"month":4,"date":10,"utc":true},{"year":1900,"month":4,"date":17,"utc":true},{"year":1900,"month":4,"date":24,"utc":true},{"year":1900,"month":5,"date":1,"utc":true},{"year":1900,"month":5,"date":8,"utc":true},{"year":1900,"month":5,"date":15,"utc":true},{"year":1900,"month":5,"date":22,"utc":true},{"year":1900,"month":5,"date":29,"utc":true}],
                "labelExpr": "utcFormat(datum.value, '%m-%d')", "labelAngle": 270, "labelAlign": "right", "labelBaseline": "middle", "labelFontSize": 15, "labelPadding": 15, "domain": false, "tickSize": -4, "labelOverlap": false, "labelFlush": false, "title": null}},
            "y": {"field": "v", "type": "quantitative", "scale": {"domain": [0.5, 3], "nice": false, "zero": false},
              "axis": {"values": [0.5, 1, 1.5, 2, 2.5, 3], "format": "~g", "offset": -49.5, "tickSize": -4, "labelPadding": 19, "labelFontSize": 15, "labelOverlap": false, "title": null}},
            "color": {"field": "s", "type": "nominal",
              "scale": {"domain": ["2019", "2020", "2021", "2022", "2023", "2024", "2025"], "range": ["#A9835F", "#D9C8A2", "#F5B73B", "#F59400", "#DB5E1C", "#E63E2D", "#A7331B"]},
              "legend": {"orient": "none", "legendX": 28.1, "legendY": -38.5, "direction": "horizontal", "columns": 4, "title": null, "symbolType": "stroke", "symbolSize": 1764, "symbolStrokeWidth": 4.5, "clipHeight": 16, "labelFontSize": 15, "labelColor": "#000000", "labelOffset": 2, "columnPadding": 49, "rowPadding": 3, "padding": 4.5, "symbolOffset": 0,
                "encode": {"symbols": {"update": {"strokeCap": {"value": "round"}}}}}}
          }
        },
        {
          "data": {"values": [{}]},
          "mark": {"type": "rule", "color": "#8c8c8c", "strokeWidth": 1},
          "encoding": {
            "x": {"datum": {"year": 1900, "month": 2, "date": 20, "utc": true}, "type": "temporal", "axis": null},
            "x2": {"datum": {"year": 1900, "month": 5, "date": 31, "hours": 14, "utc": true}},
            "y": {"datum": 0.5, "type": "quantitative", "axis": null}
          }
        }
      ]
    },
    {
      "width": 518, "height": 15,
      "title": {"text": "资料来源：Wind，德邦研究所", "orient": "bottom", "anchor": "start", "font": "Noto Sans CJK SC", "fontSize": 15, "fontWeight": "normal", "color": "#333333", "offset": 15.5, "baseline": "top"},
      "data": {"values": [{"a": 0}]},
      "mark": {"type": "text", "text": "", "fontSize": 0},
      "encoding": {"x": {"field": "a", "type": "quantitative", "scale": {"domain": [0, 1]}, "axis": {"orient": "bottom", "domainColor": "#A98466", "domainWidth": 2, "ticks": false, "labels": false, "grid": false, "title": null}}}
    }
  ]
},
{
  "spacing": 0,
  "resolve": {"scale": {"color": "independent"}, "legend": {"color": "independent"}},
  "vconcat": [
    {
      "width": 518, "height": 1,
      "title": {"text": "图 3：DR007 季节性走势（%）", "anchor": "start", "font": "Noto Sans CJK SC", "fontSize": 18, "fontWeight": "bold", "color": "#A27C5C", "offset": 4},
      "data": {"values": [{"a": 0}]},
      "mark": {"type": "text", "text": "", "fontSize": 0},
      "encoding": {"x": {"field": "a", "type": "quantitative", "scale": {"domain": [0, 1]}, "axis": {"orient": "bottom", "domainColor": "#A98466", "domainWidth": 2, "ticks": false, "labels": false, "grid": false, "title": null}}}
    },
    {
      "width": 518, "height": 184,
      "resolve": {"axis": {"x": "independent", "y": "independent"}},
      "layer": [
        {
          "data": {"name": "dr007", "format": {"parse": {"d": "utc:'%m-%d'"}}},
          "mark": {"type": "line", "strokeWidth": 3.5, "strokeJoin": "round", "strokeCap": "round"},
          "encoding": {
            "x": {"field": "d", "type": "temporal",
              "scale": {"type": "utc", "domain": [{"year": 1900, "month": 2, "date": 9, "hours": 3, "minutes": 6, "utc": true}, {"year": 1900, "month": 6, "date": 5, "hours": 17, "minutes": 17, "utc": true}]},
              "axis": {"values": [{"year":1900,"month":2,"date":20,"utc":true},{"year":1900,"month":2,"date":27,"utc":true},{"year":1900,"month":3,"date":6,"utc":true},{"year":1900,"month":3,"date":13,"utc":true},{"year":1900,"month":3,"date":20,"utc":true},{"year":1900,"month":3,"date":27,"utc":true},{"year":1900,"month":4,"date":3,"utc":true},{"year":1900,"month":4,"date":10,"utc":true},{"year":1900,"month":4,"date":17,"utc":true},{"year":1900,"month":4,"date":24,"utc":true},{"year":1900,"month":5,"date":1,"utc":true},{"year":1900,"month":5,"date":8,"utc":true},{"year":1900,"month":5,"date":15,"utc":true},{"year":1900,"month":5,"date":22,"utc":true},{"year":1900,"month":5,"date":29,"utc":true}],
                "labelExpr": "utcFormat(datum.value, '%m-%d')", "labelAngle": 270, "labelAlign": "right", "labelBaseline": "middle", "labelFontSize": 15, "labelPadding": 16, "domain": false, "tickSize": -4, "labelOverlap": false, "labelFlush": false, "title": null}},
            "y": {"field": "v", "type": "quantitative", "scale": {"domain": [1, 3], "nice": false, "zero": false},
              "axis": {"values": [1, 1.5, 2, 2.5, 3], "format": "~g", "offset": -48.3, "tickSize": -4, "labelPadding": 19, "labelFontSize": 15, "labelOverlap": false, "title": null}},
            "color": {"field": "s", "type": "nominal",
              "scale": {"domain": ["2019", "2020", "2021", "2022", "2023", "2024", "2025"], "range": ["#A9835F", "#D9C8A2", "#F5B73B", "#F59400", "#DB5E1C", "#E63E2D", "#A7331B"]},
              "legend": {"orient": "none", "legendX": 43.1, "legendY": -46.5, "direction": "horizontal", "columns": 4, "title": null, "symbolType": "stroke", "symbolSize": 1764, "symbolStrokeWidth": 4.5, "clipHeight": 16, "labelFontSize": 15, "labelColor": "#000000", "labelOffset": 2, "columnPadding": 40, "rowPadding": 2.4, "padding": 8.8, "symbolOffset": 0,
                "encode": {"symbols": {"update": {"strokeCap": {"value": "round"}}}}}}
          }
        },
        {
          "data": {"values": [{}]},
          "mark": {"type": "rule", "color": "#8c8c8c", "strokeWidth": 1},
          "encoding": {
            "x": {"datum": {"year": 1900, "month": 2, "date": 20, "utc": true}, "type": "temporal", "axis": null},
            "x2": {"datum": {"year": 1900, "month": 5, "date": 31, "hours": 12, "utc": true}},
            "y": {"datum": 1, "type": "quantitative", "axis": null}
          }
        }
      ]
    },
    {
      "width": 518, "height": 7,
      "title": {"text": "资料来源：Wind，德邦研究所", "orient": "bottom", "anchor": "start", "font": "Noto Sans CJK SC", "fontSize": 15, "fontWeight": "normal", "color": "#333333", "offset": 15.5, "baseline": "top"},
      "data": {"values": [{"a": 0}]},
      "mark": {"type": "text", "text": "", "fontSize": 0},
      "encoding": {"x": {"field": "a", "type": "quantitative", "scale": {"domain": [0, 1]}, "axis": {"orient": "bottom", "domainColor": "#A98466", "domainWidth": 2, "ticks": false, "labels": false, "grid": false, "title": null}}}
    }
  ]
}
]
}
